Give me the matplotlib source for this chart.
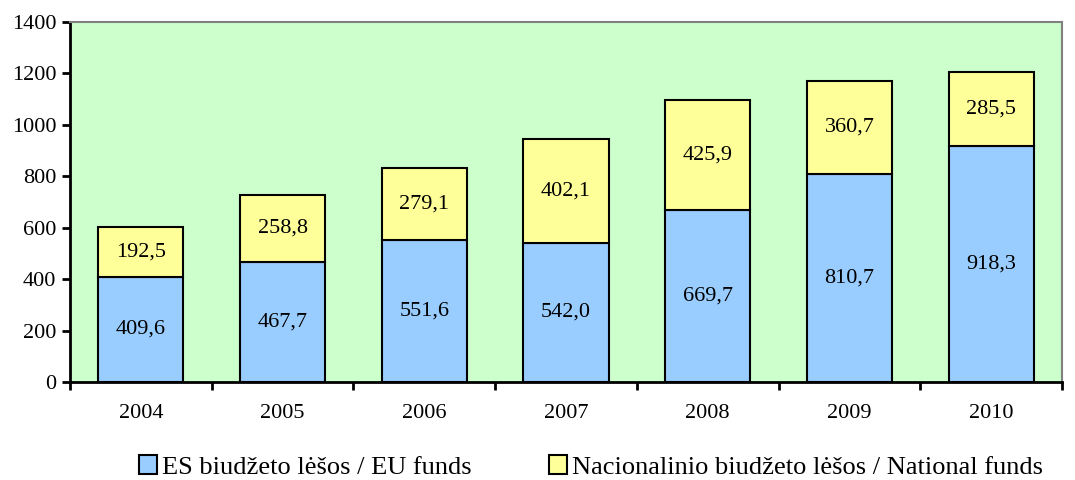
import matplotlib.pyplot as plt
import numpy as np

years = ['2004', '2005', '2006', '2007', '2008', '2009', '2010']
eu_funds = [409.6, 467.7, 551.6, 542.0, 669.7, 810.7, 918.3]
national_funds = [192.5, 258.8, 279.1, 402.1, 425.9, 360.7, 285.5]

plt.rcParams['font.family'] = ['Liberation Serif', 'DejaVu Serif']

fig = plt.figure(figsize=(10.75, 4.8), dpi=100)
ax = fig.add_axes([70/1075, 1-382/480, 992/1075, 360/480])
ax.set_facecolor('#CCFFCC')

x = np.arange(len(years))
b1 = ax.bar(x, eu_funds, width=0.6, color='#99CCFF', edgecolor='black', linewidth=1.5,
            label='ES biudžeto lėšos / EU funds', zorder=3)
b2 = ax.bar(x, national_funds, width=0.6, bottom=eu_funds, color='#FFFF99', edgecolor='black',
            linewidth=1.5, label='Nacionalinio biudžeto lėšos / National funds', zorder=3)

def fmt(v):
    return f'{v:.1f}'.replace('.', ',')

for i in range(len(years)):
    ax.text(x[i], eu_funds[i] / 2, fmt(eu_funds[i]), ha='center', va='center', fontsize=16, zorder=4)
    ax.text(x[i], eu_funds[i] + national_funds[i] / 2, fmt(national_funds[i]),
            ha='center', va='center', fontsize=16, zorder=4)

ax.set_xlim(-0.5, len(years) - 0.5)
ax.set_ylim(0, 1400)
ax.set_yticks(range(0, 1401, 200))
ax.set_xticks(x)
ax.set_xticklabels(years)
ax.set_xticks(np.arange(-0.5, len(years)), minor=True)
ax.tick_params(axis='x', which='major', length=0, labelsize=16, pad=16)
ax.tick_params(axis='x', which='minor', length=6, width=2, direction='out')
ax.tick_params(axis='y', length=6, width=2, direction='out', labelsize=16, pad=4)

for s in ['left', 'bottom']:
    ax.spines[s].set_linewidth(2)
    ax.spines[s].set_color('black')
for s in ['top', 'right']:
    ax.spines[s].set_linewidth(1.5)
    ax.spines[s].set_color('#808080')

leg = fig.legend(handles=[b1, b2], loc='center', bbox_to_anchor=(591/1075, 1-467/480), ncol=2,
                 frameon=False, fontsize=19, handlelength=0.7, handleheight=0.7,
                 handletextpad=0.2, columnspacing=2.9)

fig.savefig('out.png', dpi=100)
